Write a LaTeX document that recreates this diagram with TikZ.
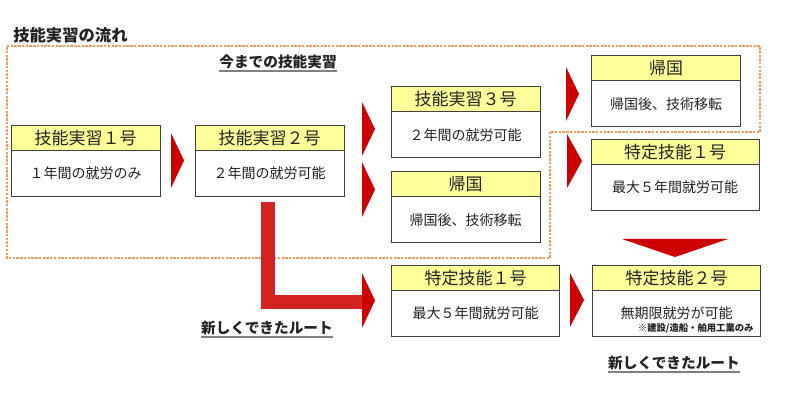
\documentclass[tikz,border=0pt]{standalone}
\usepackage{fontspec}
\setmainfont{Noto Sans CJK JP}
\usepackage{tikz}
\usetikzlibrary{positioning}

\definecolor{hdryellow}{HTML}{FFFF99}
\definecolor{boxline}{HTML}{404040}
\definecolor{arrowred}{HTML}{CC0000}
\definecolor{barred}{HTML}{D42121}
\definecolor{zoneorange}{HTML}{F69A55}
\definecolor{textgray}{HTML}{222222}

\begin{document}
\begin{tikzpicture}[x=0.75pt,y=-0.75pt]
	\tikzset{
		hdr/.style={draw=boxline,line width=0.75pt,fill=hdryellow,outer sep=0pt,inner sep=0pt,
			minimum width=111.75pt,minimum height=18.75pt,font=\fontsize{12.75}{14}\selectfont,text=textgray},
		body/.style={draw=boxline,line width=0.75pt,fill=white,outer sep=0pt,inner sep=0pt,
			minimum width=111.75pt,minimum height=34.5pt,font=\fontsize{10.5}{12}\selectfont,text=textgray},
		wide/.style={minimum width=126pt},
		heading/.style={font=\bfseries\fontsize{11}{13}\selectfont,text=textgray,inner xsep=0pt,inner ysep=1pt},
		uline/.style={draw=gray,line width=1.5pt},
		pics/tri/.style 2 args={code={\fill[arrowred] (-#1/2,-#2/2) -- (#1/2,0) -- (-#1/2,#2/2) -- cycle;}},
		pics/tridown/.style 2 args={code={\fill[arrowred] (-#1/2,-#2/2) -- (0,#2/2) -- (#1/2,-#2/2) -- cycle;}}
	}
	\useasboundingbox (0,0) rectangle (791,409);
	% zone of the old route
	\draw[zoneorange,line width=0.8pt,dash pattern=on 1.8pt off 1pt]
		(7,46) -- (760,46) -- (760,132) -- (550,132) -- (550,258) -- (7,258) -- cycle;
	\node[anchor=west,font=\bfseries\fontsize{12.25}{14}\selectfont,text=textgray,inner sep=0pt] (title) at (13,35) {技能実習の流れ};
	\node[heading] (old) at (278,62) {今までの技能実習};
	\draw[uline] (old.south west) -- (old.south east);
	% boxes
	\node[hdr] (hA) at (85.5,138) {技能実習１号};
	\node[body,below=0pt of hA] (bA) {１年間の就労のみ};
	\node[hdr] (hB) at (269.5,138) {技能実習２号};
	\node[body,below=0pt of hB] (bB) {２年間の就労可能};
	\node[hdr] (hC) at (465.5,99.5) {技能実習３号};
	\node[body,below=0pt of hC] (bC) {２年間の就労可能};
	\node[hdr] (hD) at (465.5,184.5) {帰国};
	\node[body,below=0pt of hD] (bD) {帰国後、技術移転};
	\node[hdr] (hE) at (666,68.5) {帰国};
	\node[body,below=0pt of hE] (bE) {帰国後、技術移転};
	\node[hdr,wide] (hF) at (675,152) {特定技能１号};
	\node[body,wide,below=0pt of hF] (bF) {最大５年間就労可能};
	\node[hdr,wide] (hG) at (475.5,278) {特定技能１号};
	\node[body,wide,below=0pt of hG] (bG) {最大５年間就労可能};
	\node[hdr,wide] (hH) at (676.5,278) {特定技能２号};
	\node[body,wide,below=0pt of hH] (bH) {無期限就労が可能};
	\node[anchor=south east,inner sep=0pt,font=\bfseries\fontsize{7}{8}\selectfont,text=textgray]
		(note) at ([xshift=-5pt,yshift=2pt]bH.south east) {※建設/造船・舶用工業のみ};
	% arrows
	\pic at (177.5,160.5) {tri={13}{55}};
	\pic at (368.5,129) {tri={13}{54}};
	\pic at (368.5,189.5) {tri={13}{55}};
	\pic at (572.5,94) {tri={13}{54}};
	\pic at (574.5,161) {tri={15}{54}};
	\pic at (675,248) {tridown={106}{18}};
	\pic at (577,300) {tri={14}{54}};
	% new route
	\coordinate (lstart) at (268,202);
	\coordinate (lend) at (363,302);
	\draw[barred,line width=10.5pt,line join=miter] (lstart) |- (lend);
	\pic at (368.5,300.5) {tri={13}{55}};
	\node[heading] (new1) at (267,328) {新しくできたルート};
	\draw[uline] (new1.south west) -- (new1.south east);
	\node[heading] (new2) at (674,363) {新しくできたルート};
	\draw[uline] (new2.south west) -- (new2.south east);
\end{tikzpicture}
\end{document}
